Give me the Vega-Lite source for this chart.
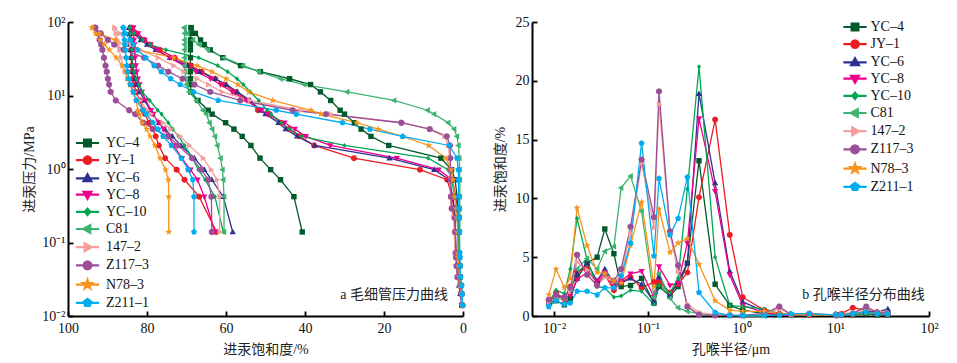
{
"$schema":"https://vega.github.io/schema/vega-lite/v6.json",
"padding":{"left":22,"top":15,"right":5,"bottom":5},
"config":{"view":{"stroke":null},"font":"Liberation Serif",
"axis":{"domainColor":"#000","domainWidth":2,"tickColor":"#000","tickWidth":1.8,"tickSize":-5,"labelFont":"Liberation Serif","labelFontSize":14,"labelColor":"#111","titleFont":"Liberation Serif, Noto Sans CJK SC","titleFontSize":14,"titleFontWeight":"normal","titleColor":"#222","grid":false,"labelFlush":false},
"legend":{"title":null,"padding":0,"labelFont":"Liberation Serif","labelFontSize":14,"labelColor":"#111","symbolSize":56,"rowPadding":0.2,"symbolStrokeWidth":2.2,"symbolOpacity":1}},
"datasets":{
"cap":[
{"id":"YC–4","c":"in","P":83.8,"S":68.85},{"id":"YC–4","c":"in","P":70,"S":67.75},{"id":"YC–4","c":"in","P":57,"S":66.45},{"id":"YC–4","c":"in","P":49.3,"S":65.5},{"id":"YC–4","c":"in","P":41.8,"S":64.0},{"id":"YC–4","c":"in","P":32.7,"S":60.8},{"id":"YC–4","c":"in","P":25.5,"S":56.3},{"id":"YC–4","c":"in","P":21.1,"S":51.3},{"id":"YC–4","c":"in","P":16.9,"S":43.9},{"id":"YC–4","c":"in","P":14.1,"S":38.6},{"id":"YC–4","c":"in","P":11.2,"S":36.1},{"id":"YC–4","c":"in","P":8.56,"S":33.5},{"id":"YC–4","c":"in","P":6.3,"S":31.1},{"id":"YC–4","c":"in","P":5.58,"S":30.0},{"id":"YC–4","c":"in","P":4.26,"S":27.5},{"id":"YC–4","c":"in","P":3.49,"S":25.8},{"id":"YC–4","c":"in","P":2.78,"S":23.3},{"id":"YC–4","c":"in","P":2.09,"S":18.8},{"id":"YC–4","c":"in","P":1.405,"S":5.6},{"id":"YC–4","c":"in","P":0.98,"S":2.9},{"id":"YC–4","c":"in","P":0.714,"S":2.0},{"id":"YC–4","c":"in","P":0.42,"S":1.5},{"id":"YC–4","c":"in","P":0.29,"S":1.3},{"id":"YC–4","c":"in","P":0.218,"S":1.2},{"id":"YC–4","c":"in","P":0.139,"S":1.1},{"id":"YC–4","c":"in","P":0.072,"S":1.0},{"id":"YC–4","c":"in","P":0.063,"S":0.9},{"id":"YC–4","c":"in","P":0.048,"S":0.8},{"id":"YC–4","c":"in","P":0.034,"S":0.7},{"id":"YC–4","c":"in","P":0.026,"S":0.5},{"id":"YC–4","c":"in","P":0.02,"S":0.4},{"id":"YC–4","c":"in","P":0.014,"S":0.3},
{"id":"JY–1","c":"in","P":83.8,"S":84.0},{"id":"JY–1","c":"in","P":70,"S":82.7},{"id":"JY–1","c":"in","P":57,"S":80.7},{"id":"JY–1","c":"in","P":49.3,"S":79.3},{"id":"JY–1","c":"in","P":41.8,"S":76.8},{"id":"JY–1","c":"in","P":32.7,"S":73.0},{"id":"JY–1","c":"in","P":25.5,"S":69.0},{"id":"JY–1","c":"in","P":21.1,"S":66.2},{"id":"JY–1","c":"in","P":16.9,"S":62.7},{"id":"JY–1","c":"in","P":14.1,"S":60.5},{"id":"JY–1","c":"in","P":11.2,"S":57.6},{"id":"JY–1","c":"in","P":8.56,"S":54.3},{"id":"JY–1","c":"in","P":6.3,"S":51.9},{"id":"JY–1","c":"in","P":5.58,"S":49.0},{"id":"JY–1","c":"in","P":4.26,"S":46.1},{"id":"JY–1","c":"in","P":3.49,"S":44.1},{"id":"JY–1","c":"in","P":2.78,"S":41.4},{"id":"JY–1","c":"in","P":2.09,"S":37.7},{"id":"JY–1","c":"in","P":1.405,"S":27.6},{"id":"JY–1","c":"in","P":0.98,"S":10.9},{"id":"JY–1","c":"in","P":0.714,"S":4.0},{"id":"JY–1","c":"in","P":0.42,"S":2.8},{"id":"JY–1","c":"in","P":0.29,"S":2.3},{"id":"JY–1","c":"in","P":0.218,"S":2.1},{"id":"JY–1","c":"in","P":0.139,"S":2.0},{"id":"JY–1","c":"in","P":0.072,"S":1.9},{"id":"JY–1","c":"in","P":0.063,"S":1.8},{"id":"JY–1","c":"in","P":0.048,"S":1.6},{"id":"JY–1","c":"in","P":0.034,"S":1.1},{"id":"JY–1","c":"in","P":0.026,"S":0.8},{"id":"JY–1","c":"in","P":0.02,"S":0.5},{"id":"JY–1","c":"in","P":0.014,"S":0.2},
{"id":"YC–6","c":"in","P":83.8,"S":84.5},{"id":"YC–6","c":"in","P":70,"S":83.3},{"id":"YC–6","c":"in","P":57,"S":81.6},{"id":"YC–6","c":"in","P":49.3,"S":80.0},{"id":"YC–6","c":"in","P":41.8,"S":77.8},{"id":"YC–6","c":"in","P":32.7,"S":74.2},{"id":"YC–6","c":"in","P":25.5,"S":69.7},{"id":"YC–6","c":"in","P":21.1,"S":66.7},{"id":"YC–6","c":"in","P":16.9,"S":62.7},{"id":"YC–6","c":"in","P":14.1,"S":59.9},{"id":"YC–6","c":"in","P":11.2,"S":57.1},{"id":"YC–6","c":"in","P":8.56,"S":53.9},{"id":"YC–6","c":"in","P":6.3,"S":51.2},{"id":"YC–6","c":"in","P":5.58,"S":50.0},{"id":"YC–6","c":"in","P":4.26,"S":46.7},{"id":"YC–6","c":"in","P":3.49,"S":44.9},{"id":"YC–6","c":"in","P":2.78,"S":42.0},{"id":"YC–6","c":"in","P":2.09,"S":37.5},{"id":"YC–6","c":"in","P":1.405,"S":18.6},{"id":"YC–6","c":"in","P":0.98,"S":7.3},{"id":"YC–6","c":"in","P":0.714,"S":3.5},{"id":"YC–6","c":"in","P":0.42,"S":2.6},{"id":"YC–6","c":"in","P":0.29,"S":2.2},{"id":"YC–6","c":"in","P":0.218,"S":2.0},{"id":"YC–6","c":"in","P":0.139,"S":1.9},{"id":"YC–6","c":"in","P":0.072,"S":1.8},{"id":"YC–6","c":"in","P":0.063,"S":1.7},{"id":"YC–6","c":"in","P":0.048,"S":1.6},{"id":"YC–6","c":"in","P":0.034,"S":1.4},{"id":"YC–6","c":"in","P":0.026,"S":1.0},{"id":"YC–6","c":"in","P":0.02,"S":0.7},{"id":"YC–6","c":"in","P":0.014,"S":0.3},
{"id":"YC–8","c":"in","P":83.8,"S":83.5},{"id":"YC–8","c":"in","P":70,"S":82.2},{"id":"YC–8","c":"in","P":57,"S":80.6},{"id":"YC–8","c":"in","P":49.3,"S":79.1},{"id":"YC–8","c":"in","P":41.8,"S":77.4},{"id":"YC–8","c":"in","P":32.7,"S":74.3},{"id":"YC–8","c":"in","P":25.5,"S":70.6},{"id":"YC–8","c":"in","P":21.1,"S":67.6},{"id":"YC–8","c":"in","P":16.9,"S":63.9},{"id":"YC–8","c":"in","P":14.1,"S":61.4},{"id":"YC–8","c":"in","P":11.2,"S":58.4},{"id":"YC–8","c":"in","P":8.56,"S":54.8},{"id":"YC–8","c":"in","P":6.3,"S":51.0},{"id":"YC–8","c":"in","P":5.58,"S":49.4},{"id":"YC–8","c":"in","P":4.26,"S":45.2},{"id":"YC–8","c":"in","P":3.49,"S":42.6},{"id":"YC–8","c":"in","P":2.78,"S":39.8},{"id":"YC–8","c":"in","P":2.09,"S":33.6},{"id":"YC–8","c":"in","P":1.405,"S":16.8},{"id":"YC–8","c":"in","P":0.98,"S":6.2},{"id":"YC–8","c":"in","P":0.714,"S":2.7},{"id":"YC–8","c":"in","P":0.42,"S":1.8},{"id":"YC–8","c":"in","P":0.29,"S":1.5},{"id":"YC–8","c":"in","P":0.218,"S":1.4},{"id":"YC–8","c":"in","P":0.139,"S":1.3},{"id":"YC–8","c":"in","P":0.072,"S":1.2},{"id":"YC–8","c":"in","P":0.063,"S":1.15},{"id":"YC–8","c":"in","P":0.048,"S":1.1},{"id":"YC–8","c":"in","P":0.034,"S":1.0},{"id":"YC–8","c":"in","P":0.026,"S":0.7},{"id":"YC–8","c":"in","P":0.02,"S":0.5},{"id":"YC–8","c":"in","P":0.014,"S":0.3},
{"id":"YC–10","c":"in","P":83.8,"S":84.3},{"id":"YC–10","c":"in","P":70,"S":83.3},{"id":"YC–10","c":"in","P":57,"S":81.1},{"id":"YC–10","c":"in","P":49.3,"S":79.2},{"id":"YC–10","c":"in","P":41.8,"S":75.2},{"id":"YC–10","c":"in","P":32.7,"S":66.9},{"id":"YC–10","c":"in","P":25.5,"S":62.1},{"id":"YC–10","c":"in","P":21.1,"S":59.6},{"id":"YC–10","c":"in","P":16.9,"S":57.2},{"id":"YC–10","c":"in","P":14.1,"S":55.6},{"id":"YC–10","c":"in","P":11.2,"S":53.9},{"id":"YC–10","c":"in","P":8.56,"S":51.7},{"id":"YC–10","c":"in","P":6.3,"S":49.6},{"id":"YC–10","c":"in","P":5.58,"S":48.6},{"id":"YC–10","c":"in","P":4.26,"S":46.0},{"id":"YC–10","c":"in","P":3.49,"S":44.0},{"id":"YC–10","c":"in","P":2.78,"S":40.8},{"id":"YC–10","c":"in","P":2.09,"S":30.0},{"id":"YC–10","c":"in","P":1.405,"S":8.8},{"id":"YC–10","c":"in","P":0.98,"S":3.8},{"id":"YC–10","c":"in","P":0.714,"S":2.9},{"id":"YC–10","c":"in","P":0.42,"S":2.1},{"id":"YC–10","c":"in","P":0.29,"S":1.5},{"id":"YC–10","c":"in","P":0.218,"S":1.3},{"id":"YC–10","c":"in","P":0.139,"S":1.2},{"id":"YC–10","c":"in","P":0.072,"S":1.1},{"id":"YC–10","c":"in","P":0.063,"S":1.05},{"id":"YC–10","c":"in","P":0.048,"S":1.0},{"id":"YC–10","c":"in","P":0.034,"S":0.9},{"id":"YC–10","c":"in","P":0.026,"S":0.7},{"id":"YC–10","c":"in","P":0.02,"S":0.5},{"id":"YC–10","c":"in","P":0.014,"S":0.3},
{"id":"C81","c":"in","P":83.8,"S":70.55},{"id":"C81","c":"in","P":70,"S":69.75},{"id":"C81","c":"in","P":57,"S":68.35},{"id":"C81","c":"in","P":49.3,"S":66.85},{"id":"C81","c":"in","P":41.8,"S":64.55},{"id":"C81","c":"in","P":32.7,"S":60.55},{"id":"C81","c":"in","P":25.5,"S":55.65},{"id":"C81","c":"in","P":21.1,"S":51.65},{"id":"C81","c":"in","P":16.9,"S":46.15},{"id":"C81","c":"in","P":14.1,"S":40.25},{"id":"C81","c":"in","P":11.2,"S":29.35},{"id":"C81","c":"in","P":8.56,"S":17.45},{"id":"C81","c":"in","P":6.3,"S":8.95},{"id":"C81","c":"in","P":5.58,"S":7.35},{"id":"C81","c":"in","P":4.26,"S":3.75},{"id":"C81","c":"in","P":3.49,"S":2.25},{"id":"C81","c":"in","P":2.78,"S":1.55},{"id":"C81","c":"in","P":2.09,"S":1.15},{"id":"C81","c":"in","P":1.405,"S":0.95},{"id":"C81","c":"in","P":0.98,"S":0.85},{"id":"C81","c":"in","P":0.714,"S":0.8},{"id":"C81","c":"in","P":0.42,"S":0.8},{"id":"C81","c":"in","P":0.29,"S":0.8},{"id":"C81","c":"in","P":0.218,"S":0.8},{"id":"C81","c":"in","P":0.139,"S":0.8},
{"id":"147–2","c":"in","P":83.8,"S":88.2},{"id":"147–2","c":"in","P":70,"S":87.0},{"id":"147–2","c":"in","P":57,"S":85.5},{"id":"147–2","c":"in","P":49.3,"S":84.0},{"id":"147–2","c":"in","P":41.8,"S":81.8},{"id":"147–2","c":"in","P":32.7,"S":77.2},{"id":"147–2","c":"in","P":25.5,"S":73.3},{"id":"147–2","c":"in","P":21.1,"S":70.7},{"id":"147–2","c":"in","P":16.9,"S":67.4},{"id":"147–2","c":"in","P":14.1,"S":64.5},{"id":"147–2","c":"in","P":11.2,"S":61.0},{"id":"147–2","c":"in","P":8.56,"S":54.0},{"id":"147–2","c":"in","P":6.3,"S":41.0},{"id":"147–2","c":"in","P":5.58,"S":33.5},{"id":"147–2","c":"in","P":4.26,"S":15.5},{"id":"147–2","c":"in","P":3.49,"S":8.5},{"id":"147–2","c":"in","P":2.78,"S":4.7},{"id":"147–2","c":"in","P":2.09,"S":3.7},{"id":"147–2","c":"in","P":1.405,"S":3.4},{"id":"147–2","c":"in","P":0.98,"S":3.3},{"id":"147–2","c":"in","P":0.714,"S":3.25},{"id":"147–2","c":"in","P":0.42,"S":3.2},{"id":"147–2","c":"in","P":0.29,"S":3.0},{"id":"147–2","c":"in","P":0.218,"S":2.4},{"id":"147–2","c":"in","P":0.139,"S":2.2},{"id":"147–2","c":"in","P":0.072,"S":2.0},{"id":"147–2","c":"in","P":0.063,"S":1.9},{"id":"147–2","c":"in","P":0.048,"S":1.7},{"id":"147–2","c":"in","P":0.034,"S":1.4},{"id":"147–2","c":"in","P":0.026,"S":0.8},{"id":"147–2","c":"in","P":0.02,"S":0.4},{"id":"147–2","c":"in","P":0.014,"S":0.1},
{"id":"Z117–3","c":"in","P":83.8,"S":93.1},{"id":"Z117–3","c":"in","P":70,"S":91.7},{"id":"Z117–3","c":"in","P":57,"S":89.9},{"id":"Z117–3","c":"in","P":49.3,"S":88.3},{"id":"Z117–3","c":"in","P":41.8,"S":85.9},{"id":"Z117–3","c":"in","P":32.7,"S":80.7},{"id":"Z117–3","c":"in","P":25.5,"S":77.2},{"id":"Z117–3","c":"in","P":21.1,"S":74.6},{"id":"Z117–3","c":"in","P":16.9,"S":71.0},{"id":"Z117–3","c":"in","P":14.1,"S":68.0},{"id":"Z117–3","c":"in","P":11.2,"S":64.0},{"id":"Z117–3","c":"in","P":8.56,"S":56.4},{"id":"Z117–3","c":"in","P":6.3,"S":43.1},{"id":"Z117–3","c":"in","P":5.58,"S":34.7},{"id":"Z117–3","c":"in","P":4.26,"S":15.6},{"id":"Z117–3","c":"in","P":3.49,"S":8.4},{"id":"Z117–3","c":"in","P":2.78,"S":4.1},{"id":"Z117–3","c":"in","P":2.09,"S":3.3},{"id":"Z117–3","c":"in","P":1.405,"S":3.2},{"id":"Z117–3","c":"in","P":0.98,"S":3.15},{"id":"Z117–3","c":"in","P":0.714,"S":3.1},{"id":"Z117–3","c":"in","P":0.42,"S":3.05},{"id":"Z117–3","c":"in","P":0.29,"S":2.85},{"id":"Z117–3","c":"in","P":0.218,"S":2.05},{"id":"Z117–3","c":"in","P":0.139,"S":1.95},{"id":"Z117–3","c":"in","P":0.072,"S":1.75},{"id":"Z117–3","c":"in","P":0.063,"S":1.7},{"id":"Z117–3","c":"in","P":0.048,"S":1.6},{"id":"Z117–3","c":"in","P":0.034,"S":1.4},{"id":"Z117–3","c":"in","P":0.026,"S":0.6},{"id":"Z117–3","c":"in","P":0.02,"S":0.3},{"id":"Z117–3","c":"in","P":0.014,"S":0.1},
{"id":"N78–3","c":"in","P":83.8,"S":93.9},{"id":"N78–3","c":"in","P":70,"S":92.1},{"id":"N78–3","c":"in","P":57,"S":88.1},{"id":"N78–3","c":"in","P":49.3,"S":85.7},{"id":"N78–3","c":"in","P":41.8,"S":82.5},{"id":"N78–3","c":"in","P":32.7,"S":73.3},{"id":"N78–3","c":"in","P":25.5,"S":67.3},{"id":"N78–3","c":"in","P":21.1,"S":63.6},{"id":"N78–3","c":"in","P":16.9,"S":60.0},{"id":"N78–3","c":"in","P":14.1,"S":57.0},{"id":"N78–3","c":"in","P":11.2,"S":54.2},{"id":"N78–3","c":"in","P":8.56,"S":48.2},{"id":"N78–3","c":"in","P":6.3,"S":38.5},{"id":"N78–3","c":"in","P":5.58,"S":36.0},{"id":"N78–3","c":"in","P":4.26,"S":26.9},{"id":"N78–3","c":"in","P":3.49,"S":21.5},{"id":"N78–3","c":"in","P":2.78,"S":15.3},{"id":"N78–3","c":"in","P":2.09,"S":8.7},{"id":"N78–3","c":"in","P":1.405,"S":4.3},{"id":"N78–3","c":"in","P":0.98,"S":3.0},{"id":"N78–3","c":"in","P":0.714,"S":2.5},{"id":"N78–3","c":"in","P":0.42,"S":2.1},{"id":"N78–3","c":"in","P":0.29,"S":1.7},{"id":"N78–3","c":"in","P":0.218,"S":1.5},{"id":"N78–3","c":"in","P":0.139,"S":1.4},{"id":"N78–3","c":"in","P":0.072,"S":1.3},{"id":"N78–3","c":"in","P":0.063,"S":1.2},{"id":"N78–3","c":"in","P":0.048,"S":1.1},{"id":"N78–3","c":"in","P":0.034,"S":0.9},{"id":"N78–3","c":"in","P":0.026,"S":0.6},{"id":"N78–3","c":"in","P":0.02,"S":0.4},{"id":"N78–3","c":"in","P":0.014,"S":0.2},
{"id":"Z211–1","c":"in","P":83.8,"S":86.0},{"id":"Z211–1","c":"in","P":70,"S":85.5},{"id":"Z211–1","c":"in","P":57,"S":84.2},{"id":"Z211–1","c":"in","P":49.3,"S":83.5},{"id":"Z211–1","c":"in","P":41.8,"S":82.4},{"id":"Z211–1","c":"in","P":32.7,"S":80.3},{"id":"Z211–1","c":"in","P":25.5,"S":78.2},{"id":"Z211–1","c":"in","P":21.1,"S":76.4},{"id":"Z211–1","c":"in","P":16.9,"S":74.0},{"id":"Z211–1","c":"in","P":14.1,"S":71.6},{"id":"Z211–1","c":"in","P":11.2,"S":68.2},{"id":"Z211–1","c":"in","P":8.56,"S":62.0},{"id":"Z211–1","c":"in","P":6.3,"S":47.3},{"id":"Z211–1","c":"in","P":5.58,"S":42.2},{"id":"Z211–1","c":"in","P":4.26,"S":30.5},{"id":"Z211–1","c":"in","P":3.49,"S":23.6},{"id":"Z211–1","c":"in","P":2.78,"S":15.3},{"id":"Z211–1","c":"in","P":2.09,"S":3.5},{"id":"Z211–1","c":"in","P":1.405,"S":1.5},{"id":"Z211–1","c":"in","P":0.98,"S":1.2},{"id":"Z211–1","c":"in","P":0.714,"S":1.15},{"id":"Z211–1","c":"in","P":0.42,"S":1.1},{"id":"Z211–1","c":"in","P":0.29,"S":1.05},{"id":"Z211–1","c":"in","P":0.218,"S":1.0},{"id":"Z211–1","c":"in","P":0.139,"S":0.9},{"id":"Z211–1","c":"in","P":0.072,"S":0.8},{"id":"Z211–1","c":"in","P":0.063,"S":0.75},{"id":"Z211–1","c":"in","P":0.048,"S":0.7},{"id":"Z211–1","c":"in","P":0.034,"S":0.6},{"id":"Z211–1","c":"in","P":0.026,"S":0.3},{"id":"Z211–1","c":"in","P":0.02,"S":0.2},{"id":"Z211–1","c":"in","P":0.014,"S":0.1},
{"id":"YC–4","c":"out","P":83.8,"S":68.85},{"id":"YC–4","c":"out","P":70,"S":68.9},{"id":"YC–4","c":"out","P":57,"S":69.0},{"id":"YC–4","c":"out","P":49.3,"S":69.0},{"id":"YC–4","c":"out","P":41.8,"S":69.0},{"id":"YC–4","c":"out","P":32.7,"S":69.0},{"id":"YC–4","c":"out","P":25.5,"S":69.0},{"id":"YC–4","c":"out","P":21.1,"S":69.0},{"id":"YC–4","c":"out","P":16.9,"S":69.0},{"id":"YC–4","c":"out","P":14.1,"S":69.0},{"id":"YC–4","c":"out","P":11.2,"S":68.9},{"id":"YC–4","c":"out","P":8.56,"S":67.1},{"id":"YC–4","c":"out","P":6.3,"S":64.5},{"id":"YC–4","c":"out","P":5.58,"S":63.5},{"id":"YC–4","c":"out","P":4.26,"S":60.1},{"id":"YC–4","c":"out","P":3.49,"S":58.0},{"id":"YC–4","c":"out","P":2.78,"S":55.9},{"id":"YC–4","c":"out","P":2.09,"S":53.7},{"id":"YC–4","c":"out","P":1.405,"S":51.4},{"id":"YC–4","c":"out","P":0.98,"S":48.7},{"id":"YC–4","c":"out","P":0.714,"S":46.2},{"id":"YC–4","c":"out","P":0.42,"S":42.8},{"id":"YC–4","c":"out","P":0.139,"S":40.7},
{"id":"JY–1","c":"out","P":83.8,"S":84.0},{"id":"JY–1","c":"out","P":70,"S":84.0},{"id":"JY–1","c":"out","P":57,"S":84.0},{"id":"JY–1","c":"out","P":49.3,"S":84.0},{"id":"JY–1","c":"out","P":41.8,"S":84.0},{"id":"JY–1","c":"out","P":32.7,"S":83.9},{"id":"JY–1","c":"out","P":25.5,"S":83.9},{"id":"JY–1","c":"out","P":21.1,"S":83.8},{"id":"JY–1","c":"out","P":16.9,"S":83.6},{"id":"JY–1","c":"out","P":14.1,"S":83.3},{"id":"JY–1","c":"out","P":11.2,"S":82.8},{"id":"JY–1","c":"out","P":8.56,"S":81.8},{"id":"JY–1","c":"out","P":6.3,"S":81.0},{"id":"JY–1","c":"out","P":5.58,"S":80.5},{"id":"JY–1","c":"out","P":4.26,"S":79.5},{"id":"JY–1","c":"out","P":3.49,"S":78.6},{"id":"JY–1","c":"out","P":2.78,"S":77.8},{"id":"JY–1","c":"out","P":2.09,"S":77.0},{"id":"JY–1","c":"out","P":1.405,"S":75.4},{"id":"JY–1","c":"out","P":0.98,"S":72.5},{"id":"JY–1","c":"out","P":0.714,"S":70.5},{"id":"JY–1","c":"out","P":0.42,"S":66.8},{"id":"JY–1","c":"out","P":0.139,"S":62.4},
{"id":"YC–6","c":"out","P":83.8,"S":84.5},{"id":"YC–6","c":"out","P":70,"S":84.4},{"id":"YC–6","c":"out","P":57,"S":84.3},{"id":"YC–6","c":"out","P":49.3,"S":84.2},{"id":"YC–6","c":"out","P":41.8,"S":84.1},{"id":"YC–6","c":"out","P":32.7,"S":84.0},{"id":"YC–6","c":"out","P":25.5,"S":83.8},{"id":"YC–6","c":"out","P":21.1,"S":83.5},{"id":"YC–6","c":"out","P":16.9,"S":83.1},{"id":"YC–6","c":"out","P":14.1,"S":82.6},{"id":"YC–6","c":"out","P":11.2,"S":81.8},{"id":"YC–6","c":"out","P":8.56,"S":80.6},{"id":"YC–6","c":"out","P":6.3,"S":79.2},{"id":"YC–6","c":"out","P":5.58,"S":78.6},{"id":"YC–6","c":"out","P":4.26,"S":77.0},{"id":"YC–6","c":"out","P":3.49,"S":75.5},{"id":"YC–6","c":"out","P":2.78,"S":73.6},{"id":"YC–6","c":"out","P":2.09,"S":71.4},{"id":"YC–6","c":"out","P":1.405,"S":68.0},{"id":"YC–6","c":"out","P":0.98,"S":65.5},{"id":"YC–6","c":"out","P":0.714,"S":63.6},{"id":"YC–6","c":"out","P":0.42,"S":60.7},{"id":"YC–6","c":"out","P":0.139,"S":58.3},
{"id":"YC–8","c":"out","P":83.8,"S":83.5},{"id":"YC–8","c":"out","P":70,"S":83.4},{"id":"YC–8","c":"out","P":57,"S":83.3},{"id":"YC–8","c":"out","P":49.3,"S":83.2},{"id":"YC–8","c":"out","P":41.8,"S":83.1},{"id":"YC–8","c":"out","P":32.7,"S":83.0},{"id":"YC–8","c":"out","P":25.5,"S":82.8},{"id":"YC–8","c":"out","P":21.1,"S":82.6},{"id":"YC–8","c":"out","P":16.9,"S":82.3},{"id":"YC–8","c":"out","P":14.1,"S":81.9},{"id":"YC–8","c":"out","P":11.2,"S":81.3},{"id":"YC–8","c":"out","P":8.56,"S":80.3},{"id":"YC–8","c":"out","P":6.3,"S":79.0},{"id":"YC–8","c":"out","P":5.58,"S":78.4},{"id":"YC–8","c":"out","P":4.26,"S":77.0},{"id":"YC–8","c":"out","P":3.49,"S":75.8},{"id":"YC–8","c":"out","P":2.78,"S":74.5},{"id":"YC–8","c":"out","P":2.09,"S":73.2},{"id":"YC–8","c":"out","P":1.405,"S":71.2},{"id":"YC–8","c":"out","P":0.98,"S":69.0},{"id":"YC–8","c":"out","P":0.714,"S":67.2},{"id":"YC–8","c":"out","P":0.42,"S":65.5},{"id":"YC–8","c":"out","P":0.139,"S":62.8},
{"id":"YC–10","c":"out","P":83.8,"S":84.3},{"id":"YC–10","c":"out","P":70,"S":84.2},{"id":"YC–10","c":"out","P":57,"S":84.1},{"id":"YC–10","c":"out","P":49.3,"S":84.0},{"id":"YC–10","c":"out","P":41.8,"S":83.9},{"id":"YC–10","c":"out","P":32.7,"S":83.8},{"id":"YC–10","c":"out","P":25.5,"S":83.6},{"id":"YC–10","c":"out","P":21.1,"S":83.3},{"id":"YC–10","c":"out","P":16.9,"S":82.7},{"id":"YC–10","c":"out","P":14.1,"S":82.0},{"id":"YC–10","c":"out","P":11.2,"S":81.2},{"id":"YC–10","c":"out","P":8.56,"S":79.3},{"id":"YC–10","c":"out","P":6.3,"S":77.3},{"id":"YC–10","c":"out","P":5.58,"S":76.3},{"id":"YC–10","c":"out","P":4.26,"S":74.6},{"id":"YC–10","c":"out","P":3.49,"S":73.5},{"id":"YC–10","c":"out","P":2.78,"S":72.0},{"id":"YC–10","c":"out","P":2.09,"S":70.5},{"id":"YC–10","c":"out","P":1.405,"S":68.5},{"id":"YC–10","c":"out","P":0.98,"S":67.0},{"id":"YC–10","c":"out","P":0.714,"S":65.3},{"id":"YC–10","c":"out","P":0.42,"S":62.8},{"id":"YC–10","c":"out","P":0.139,"S":60.7},
{"id":"C81","c":"out","P":83.8,"S":70.55},{"id":"C81","c":"out","P":70,"S":70.5},{"id":"C81","c":"out","P":57,"S":70.5},{"id":"C81","c":"out","P":49.3,"S":70.5},{"id":"C81","c":"out","P":41.8,"S":70.5},{"id":"C81","c":"out","P":32.7,"S":70.5},{"id":"C81","c":"out","P":25.5,"S":70.5},{"id":"C81","c":"out","P":21.1,"S":70.4},{"id":"C81","c":"out","P":16.9,"S":70.3},{"id":"C81","c":"out","P":14.1,"S":70.0},{"id":"C81","c":"out","P":11.2,"S":69.3},{"id":"C81","c":"out","P":8.56,"S":67.5},{"id":"C81","c":"out","P":6.3,"S":65.8},{"id":"C81","c":"out","P":5.58,"S":65.0},{"id":"C81","c":"out","P":4.26,"S":64.2},{"id":"C81","c":"out","P":3.49,"S":63.5},{"id":"C81","c":"out","P":2.78,"S":62.8},{"id":"C81","c":"out","P":2.09,"S":62.2},{"id":"C81","c":"out","P":1.405,"S":61.4},{"id":"C81","c":"out","P":0.98,"S":60.9},{"id":"C81","c":"out","P":0.714,"S":60.7},{"id":"C81","c":"out","P":0.42,"S":60.5},{"id":"C81","c":"out","P":0.139,"S":60.5},
{"id":"147–2","c":"out","P":83.8,"S":88.2},{"id":"147–2","c":"out","P":70,"S":87.9},{"id":"147–2","c":"out","P":57,"S":87.6},{"id":"147–2","c":"out","P":49.3,"S":87.3},{"id":"147–2","c":"out","P":41.8,"S":87.0},{"id":"147–2","c":"out","P":32.7,"S":86.6},{"id":"147–2","c":"out","P":25.5,"S":86.1},{"id":"147–2","c":"out","P":21.1,"S":85.6},{"id":"147–2","c":"out","P":16.9,"S":85.0},{"id":"147–2","c":"out","P":14.1,"S":84.2},{"id":"147–2","c":"out","P":11.2,"S":83.2},{"id":"147–2","c":"out","P":8.56,"S":81.8},{"id":"147–2","c":"out","P":6.3,"S":80.0},{"id":"147–2","c":"out","P":5.58,"S":79.0},{"id":"147–2","c":"out","P":4.26,"S":76.0},{"id":"147–2","c":"out","P":3.49,"S":74.0},{"id":"147–2","c":"out","P":2.78,"S":71.6},{"id":"147–2","c":"out","P":2.09,"S":69.3},{"id":"147–2","c":"out","P":1.405,"S":65.8},{"id":"147–2","c":"out","P":0.98,"S":63.8},{"id":"147–2","c":"out","P":0.714,"S":62.3},{"id":"147–2","c":"out","P":0.42,"S":61.6},{"id":"147–2","c":"out","P":0.139,"S":61.6},
{"id":"Z117–3","c":"out","P":83.8,"S":93.1},{"id":"Z117–3","c":"out","P":70,"S":92.5},{"id":"Z117–3","c":"out","P":57,"S":92.0},{"id":"Z117–3","c":"out","P":49.3,"S":91.6},{"id":"Z117–3","c":"out","P":41.8,"S":91.3},{"id":"Z117–3","c":"out","P":32.7,"S":90.9},{"id":"Z117–3","c":"out","P":25.5,"S":90.5},{"id":"Z117–3","c":"out","P":21.1,"S":90.2},{"id":"Z117–3","c":"out","P":16.9,"S":89.9},{"id":"Z117–3","c":"out","P":14.1,"S":89.6},{"id":"Z117–3","c":"out","P":11.2,"S":89.2},{"id":"Z117–3","c":"out","P":8.56,"S":87.9},{"id":"Z117–3","c":"out","P":6.3,"S":84.5},{"id":"Z117–3","c":"out","P":5.58,"S":83.0},{"id":"Z117–3","c":"out","P":4.26,"S":80.9},{"id":"Z117–3","c":"out","P":3.49,"S":78.4},{"id":"Z117–3","c":"out","P":2.78,"S":74.6},{"id":"Z117–3","c":"out","P":2.09,"S":72.1},{"id":"Z117–3","c":"out","P":1.405,"S":68.6},{"id":"Z117–3","c":"out","P":0.98,"S":66.3},{"id":"Z117–3","c":"out","P":0.714,"S":64.5},{"id":"Z117–3","c":"out","P":0.42,"S":63.7},{"id":"Z117–3","c":"out","P":0.139,"S":63.6},
{"id":"N78–3","c":"out","P":83.8,"S":93.9},{"id":"N78–3","c":"out","P":70,"S":93.0},{"id":"N78–3","c":"out","P":57,"S":91.8},{"id":"N78–3","c":"out","P":49.3,"S":90.8},{"id":"N78–3","c":"out","P":41.8,"S":89.5},{"id":"N78–3","c":"out","P":32.7,"S":87.8},{"id":"N78–3","c":"out","P":25.5,"S":86.3},{"id":"N78–3","c":"out","P":21.1,"S":85.5},{"id":"N78–3","c":"out","P":16.9,"S":84.8},{"id":"N78–3","c":"out","P":14.1,"S":84.3},{"id":"N78–3","c":"out","P":11.2,"S":83.6},{"id":"N78–3","c":"out","P":8.56,"S":82.8},{"id":"N78–3","c":"out","P":6.3,"S":82.3},{"id":"N78–3","c":"out","P":5.58,"S":81.9},{"id":"N78–3","c":"out","P":4.26,"S":81.2},{"id":"N78–3","c":"out","P":3.49,"S":80.1},{"id":"N78–3","c":"out","P":2.78,"S":79.2},{"id":"N78–3","c":"out","P":2.09,"S":78.0},{"id":"N78–3","c":"out","P":1.405,"S":76.7},{"id":"N78–3","c":"out","P":0.98,"S":75.3},{"id":"N78–3","c":"out","P":0.714,"S":74.6},{"id":"N78–3","c":"out","P":0.42,"S":74.5},{"id":"N78–3","c":"out","P":0.139,"S":74.5},
{"id":"Z211–1","c":"out","P":83.8,"S":86.0},{"id":"Z211–1","c":"out","P":70,"S":85.8},{"id":"Z211–1","c":"out","P":57,"S":85.7},{"id":"Z211–1","c":"out","P":49.3,"S":85.6},{"id":"Z211–1","c":"out","P":41.8,"S":85.5},{"id":"Z211–1","c":"out","P":32.7,"S":85.3},{"id":"Z211–1","c":"out","P":25.5,"S":85.1},{"id":"Z211–1","c":"out","P":21.1,"S":84.9},{"id":"Z211–1","c":"out","P":16.9,"S":84.6},{"id":"Z211–1","c":"out","P":14.1,"S":84.2},{"id":"Z211–1","c":"out","P":11.2,"S":83.5},{"id":"Z211–1","c":"out","P":8.56,"S":82.7},{"id":"Z211–1","c":"out","P":6.3,"S":81.0},{"id":"Z211–1","c":"out","P":5.58,"S":80.2},{"id":"Z211–1","c":"out","P":4.26,"S":78.5},{"id":"Z211–1","c":"out","P":3.49,"S":77.2},{"id":"Z211–1","c":"out","P":2.78,"S":75.9},{"id":"Z211–1","c":"out","P":2.09,"S":73.8},{"id":"Z211–1","c":"out","P":1.405,"S":71.3},{"id":"Z211–1","c":"out","P":0.98,"S":69.6},{"id":"Z211–1","c":"out","P":0.714,"S":68.4},{"id":"Z211–1","c":"out","P":0.42,"S":68.1},{"id":"Z211–1","c":"out","P":0.139,"S":68.1}
],
"pore":[
{"id":"YC–4","r":0.0088,"v":1.1},{"id":"YC–4","r":0.0105,"v":1.3},{"id":"YC–4","r":0.0129,"v":0.95},{"id":"YC–4","r":0.0149,"v":1.5},{"id":"YC–4","r":0.0176,"v":3.2},{"id":"YC–4","r":0.0225,"v":4.5},{"id":"YC–4","r":0.0288,"v":5.0},{"id":"YC–4","r":0.0348,"v":7.4},{"id":"YC–4","r":0.0435,"v":5.3},{"id":"YC–4","r":0.052,"v":2.5},{"id":"YC–4","r":0.0655,"v":2.6},{"id":"YC–4","r":0.0859,"v":3.2},{"id":"YC–4","r":0.1165,"v":1.1},{"id":"YC–4","r":0.1318,"v":2.5},{"id":"YC–4","r":0.1727,"v":1.7},{"id":"YC–4","r":0.2104,"v":2.5},{"id":"YC–4","r":0.2645,"v":4.5},{"id":"YC–4","r":0.352,"v":13.2},{"id":"YC–4","r":0.523,"v":2.7},{"id":"YC–4","r":0.75,"v":0.9},{"id":"YC–4","r":1.03,"v":0.5},{"id":"YC–4","r":1.75,"v":0.2},{"id":"YC–4","r":2.53,"v":0.1},{"id":"YC–4","r":3.37,"v":0.1},{"id":"YC–4","r":5.3,"v":0.1},{"id":"YC–4","r":10.2,"v":0.1},{"id":"YC–4","r":11.6,"v":0.1},{"id":"YC–4","r":15.4,"v":0.1},{"id":"YC–4","r":21.4,"v":0.2},{"id":"YC–4","r":28,"v":0.1},{"id":"YC–4","r":36.4,"v":0.1},
{"id":"JY–1","r":0.0088,"v":1.3},{"id":"JY–1","r":0.0105,"v":2.0},{"id":"JY–1","r":0.0129,"v":1.4},{"id":"JY–1","r":0.0149,"v":2.5},{"id":"JY–1","r":0.0176,"v":3.8},{"id":"JY–1","r":0.0225,"v":4.0},{"id":"JY–1","r":0.0288,"v":2.8},{"id":"JY–1","r":0.0348,"v":3.5},{"id":"JY–1","r":0.0435,"v":2.2},{"id":"JY–1","r":0.052,"v":2.9},{"id":"JY–1","r":0.0655,"v":3.3},{"id":"JY–1","r":0.0859,"v":2.4},{"id":"JY–1","r":0.1165,"v":2.9},{"id":"JY–1","r":0.1318,"v":2.9},{"id":"JY–1","r":0.1727,"v":2.0},{"id":"JY–1","r":0.2104,"v":2.7},{"id":"JY–1","r":0.2645,"v":3.7},{"id":"JY–1","r":0.352,"v":10.1},{"id":"JY–1","r":0.523,"v":16.7},{"id":"JY–1","r":0.75,"v":6.9},{"id":"JY–1","r":1.03,"v":1.6},{"id":"JY–1","r":1.75,"v":0.5},{"id":"JY–1","r":2.53,"v":0.2},{"id":"JY–1","r":3.37,"v":0.1},{"id":"JY–1","r":5.3,"v":0.1},{"id":"JY–1","r":10.2,"v":0.1},{"id":"JY–1","r":11.6,"v":0.2},{"id":"JY–1","r":15.4,"v":0.7},{"id":"JY–1","r":21.4,"v":0.5},{"id":"JY–1","r":28,"v":0.3},{"id":"JY–1","r":36.4,"v":0.3},
{"id":"YC–6","r":0.0088,"v":1.2},{"id":"YC–6","r":0.0105,"v":1.7},{"id":"YC–6","r":0.0129,"v":1.6},{"id":"YC–6","r":0.0149,"v":2.2},{"id":"YC–6","r":0.0176,"v":3.6},{"id":"YC–6","r":0.0225,"v":4.5},{"id":"YC–6","r":0.0288,"v":3.0},{"id":"YC–6","r":0.0348,"v":4.0},{"id":"YC–6","r":0.0435,"v":2.8},{"id":"YC–6","r":0.052,"v":2.8},{"id":"YC–6","r":0.0655,"v":3.2},{"id":"YC–6","r":0.0859,"v":2.7},{"id":"YC–6","r":0.1165,"v":1.2},{"id":"YC–6","r":0.1318,"v":3.3},{"id":"YC–6","r":0.1727,"v":1.8},{"id":"YC–6","r":0.2104,"v":2.9},{"id":"YC–6","r":0.2645,"v":4.5},{"id":"YC–6","r":0.352,"v":18.9},{"id":"YC–6","r":0.523,"v":11.3},{"id":"YC–6","r":0.75,"v":3.8},{"id":"YC–6","r":1.03,"v":1.2},{"id":"YC–6","r":1.75,"v":0.4},{"id":"YC–6","r":2.53,"v":0.2},{"id":"YC–6","r":3.37,"v":0.1},{"id":"YC–6","r":5.3,"v":0.1},{"id":"YC–6","r":10.2,"v":0.1},{"id":"YC–6","r":11.6,"v":0.1},{"id":"YC–6","r":15.4,"v":0.2},{"id":"YC–6","r":21.4,"v":0.4},{"id":"YC–6","r":28,"v":0.3},{"id":"YC–6","r":36.4,"v":0.6},
{"id":"YC–8","r":0.0088,"v":1.3},{"id":"YC–8","r":0.0105,"v":1.6},{"id":"YC–8","r":0.0129,"v":1.5},{"id":"YC–8","r":0.0149,"v":1.7},{"id":"YC–8","r":0.0176,"v":3.1},{"id":"YC–8","r":0.0225,"v":3.7},{"id":"YC–8","r":0.0288,"v":3.0},{"id":"YC–8","r":0.0348,"v":3.7},{"id":"YC–8","r":0.0435,"v":2.5},{"id":"YC–8","r":0.052,"v":3.0},{"id":"YC–8","r":0.0655,"v":3.6},{"id":"YC–8","r":0.0859,"v":3.8},{"id":"YC–8","r":0.1165,"v":1.6},{"id":"YC–8","r":0.1318,"v":4.2},{"id":"YC–8","r":0.1727,"v":2.6},{"id":"YC–8","r":0.2104,"v":2.8},{"id":"YC–8","r":0.2645,"v":6.2},{"id":"YC–8","r":0.352,"v":16.8},{"id":"YC–8","r":0.523,"v":10.6},{"id":"YC–8","r":0.75,"v":3.5},{"id":"YC–8","r":1.03,"v":0.9},{"id":"YC–8","r":1.75,"v":0.3},{"id":"YC–8","r":2.53,"v":0.1},{"id":"YC–8","r":3.37,"v":0.1},{"id":"YC–8","r":5.3,"v":0.1},{"id":"YC–8","r":10.2,"v":0.05},{"id":"YC–8","r":11.6,"v":0.05},{"id":"YC–8","r":15.4,"v":0.1},{"id":"YC–8","r":21.4,"v":0.3},{"id":"YC–8","r":28,"v":0.2},{"id":"YC–8","r":36.4,"v":0.2},
{"id":"YC–10","r":0.0088,"v":1.0},{"id":"YC–10","r":0.0105,"v":2.2},{"id":"YC–10","r":0.0129,"v":1.9},{"id":"YC–10","r":0.0149,"v":4.0},{"id":"YC–10","r":0.0176,"v":8.3},{"id":"YC–10","r":0.0225,"v":4.8},{"id":"YC–10","r":0.0288,"v":2.5},{"id":"YC–10","r":0.0348,"v":2.4},{"id":"YC–10","r":0.0435,"v":1.6},{"id":"YC–10","r":0.052,"v":1.7},{"id":"YC–10","r":0.0655,"v":2.2},{"id":"YC–10","r":0.0859,"v":2.1},{"id":"YC–10","r":0.1165,"v":1.0},{"id":"YC–10","r":0.1318,"v":2.6},{"id":"YC–10","r":0.1727,"v":2.0},{"id":"YC–10","r":0.2104,"v":3.2},{"id":"YC–10","r":0.2645,"v":10.8},{"id":"YC–10","r":0.352,"v":21.2},{"id":"YC–10","r":0.523,"v":5.0},{"id":"YC–10","r":0.75,"v":0.9},{"id":"YC–10","r":1.03,"v":0.8},{"id":"YC–10","r":1.75,"v":0.6},{"id":"YC–10","r":2.53,"v":0.2},{"id":"YC–10","r":3.37,"v":0.1},{"id":"YC–10","r":5.3,"v":0.1},{"id":"YC–10","r":10.2,"v":0.05},{"id":"YC–10","r":11.6,"v":0.05},{"id":"YC–10","r":15.4,"v":0.1},{"id":"YC–10","r":21.4,"v":0.2},{"id":"YC–10","r":28,"v":0.2},{"id":"YC–10","r":36.4,"v":0.2},
{"id":"C81","r":0.0088,"v":0.8},{"id":"C81","r":0.0105,"v":1.4},{"id":"C81","r":0.0129,"v":1.5},{"id":"C81","r":0.0149,"v":2.3},{"id":"C81","r":0.0176,"v":4.0},{"id":"C81","r":0.0225,"v":4.9},{"id":"C81","r":0.0288,"v":4.0},{"id":"C81","r":0.0348,"v":5.5},{"id":"C81","r":0.0435,"v":5.9},{"id":"C81","r":0.052,"v":10.9},{"id":"C81","r":0.0655,"v":11.9},{"id":"C81","r":0.0859,"v":8.9},{"id":"C81","r":0.1165,"v":1.6},{"id":"C81","r":0.1318,"v":3.6},{"id":"C81","r":0.1727,"v":1.5},{"id":"C81","r":0.2104,"v":0.7},{"id":"C81","r":0.2645,"v":0.4},{"id":"C81","r":0.352,"v":0.2},{"id":"C81","r":0.523,"v":0.1},{"id":"C81","r":0.75,"v":0.05},{"id":"C81","r":1.03,"v":0.0},{"id":"C81","r":1.75,"v":0.0},
{"id":"147–2","r":0.0088,"v":1.2},{"id":"147–2","r":0.0105,"v":1.5},{"id":"147–2","r":0.0129,"v":1.5},{"id":"147–2","r":0.0149,"v":2.2},{"id":"147–2","r":0.0176,"v":4.6},{"id":"147–2","r":0.0225,"v":3.9},{"id":"147–2","r":0.0288,"v":2.6},{"id":"147–2","r":0.0348,"v":3.3},{"id":"147–2","r":0.0435,"v":2.9},{"id":"147–2","r":0.052,"v":3.5},{"id":"147–2","r":0.0655,"v":7.0},{"id":"147–2","r":0.0859,"v":13.0},{"id":"147–2","r":0.1165,"v":7.5},{"id":"147–2","r":0.1318,"v":18.0},{"id":"147–2","r":0.1727,"v":7.0},{"id":"147–2","r":0.2104,"v":3.8},{"id":"147–2","r":0.2645,"v":1.0},{"id":"147–2","r":0.352,"v":0.3},{"id":"147–2","r":0.523,"v":0.1},{"id":"147–2","r":0.75,"v":0.05},{"id":"147–2","r":1.03,"v":0.05},{"id":"147–2","r":1.75,"v":0.2},{"id":"147–2","r":2.53,"v":0.6},{"id":"147–2","r":3.37,"v":0.2},{"id":"147–2","r":5.3,"v":0.2},{"id":"147–2","r":10.2,"v":0.1},{"id":"147–2","r":11.6,"v":0.2},{"id":"147–2","r":15.4,"v":0.3},{"id":"147–2","r":21.4,"v":0.6},{"id":"147–2","r":28,"v":0.4},{"id":"147–2","r":36.4,"v":0.3},
{"id":"Z117–3","r":0.0088,"v":1.4},{"id":"Z117–3","r":0.0105,"v":1.8},{"id":"Z117–3","r":0.0129,"v":1.6},{"id":"Z117–3","r":0.0149,"v":2.4},{"id":"Z117–3","r":0.0176,"v":5.2},{"id":"Z117–3","r":0.0225,"v":3.5},{"id":"Z117–3","r":0.0288,"v":2.6},{"id":"Z117–3","r":0.0348,"v":3.6},{"id":"Z117–3","r":0.0435,"v":3.0},{"id":"Z117–3","r":0.052,"v":4.0},{"id":"Z117–3","r":0.0655,"v":7.6},{"id":"Z117–3","r":0.0859,"v":13.3},{"id":"Z117–3","r":0.1165,"v":8.4},{"id":"Z117–3","r":0.1318,"v":19.1},{"id":"Z117–3","r":0.1727,"v":7.2},{"id":"Z117–3","r":0.2104,"v":4.3},{"id":"Z117–3","r":0.2645,"v":0.8},{"id":"Z117–3","r":0.352,"v":0.1},{"id":"Z117–3","r":0.523,"v":0.05},{"id":"Z117–3","r":0.75,"v":0.05},{"id":"Z117–3","r":1.03,"v":0.05},{"id":"Z117–3","r":1.75,"v":0.2},{"id":"Z117–3","r":2.53,"v":0.8},{"id":"Z117–3","r":3.37,"v":0.1},{"id":"Z117–3","r":5.3,"v":0.2},{"id":"Z117–3","r":10.2,"v":0.05},{"id":"Z117–3","r":11.6,"v":0.1},{"id":"Z117–3","r":15.4,"v":0.2},{"id":"Z117–3","r":21.4,"v":0.8},{"id":"Z117–3","r":28,"v":0.3},{"id":"Z117–3","r":36.4,"v":0.2},
{"id":"N78–3","r":0.0088,"v":1.8},{"id":"N78–3","r":0.0105,"v":4.0},{"id":"N78–3","r":0.0129,"v":2.4},{"id":"N78–3","r":0.0149,"v":3.2},{"id":"N78–3","r":0.0176,"v":9.2},{"id":"N78–3","r":0.0225,"v":6.0},{"id":"N78–3","r":0.0288,"v":3.7},{"id":"N78–3","r":0.0348,"v":3.6},{"id":"N78–3","r":0.0435,"v":3.0},{"id":"N78–3","r":0.052,"v":2.8},{"id":"N78–3","r":0.0655,"v":6.0},{"id":"N78–3","r":0.0859,"v":9.7},{"id":"N78–3","r":0.1165,"v":2.5},{"id":"N78–3","r":0.1318,"v":9.1},{"id":"N78–3","r":0.1727,"v":5.4},{"id":"N78–3","r":0.2104,"v":6.2},{"id":"N78–3","r":0.2645,"v":6.6},{"id":"N78–3","r":0.352,"v":4.4},{"id":"N78–3","r":0.523,"v":1.3},{"id":"N78–3","r":0.75,"v":0.5},{"id":"N78–3","r":1.03,"v":0.4},{"id":"N78–3","r":1.75,"v":0.4},{"id":"N78–3","r":2.53,"v":0.2},{"id":"N78–3","r":3.37,"v":0.1},{"id":"N78–3","r":5.3,"v":0.1},{"id":"N78–3","r":10.2,"v":0.1},{"id":"N78–3","r":11.6,"v":0.1},{"id":"N78–3","r":15.4,"v":0.2},{"id":"N78–3","r":21.4,"v":0.3},{"id":"N78–3","r":28,"v":0.2},{"id":"N78–3","r":36.4,"v":0.2},
{"id":"Z211–1","r":0.0088,"v":0.8},{"id":"Z211–1","r":0.0105,"v":1.3},{"id":"Z211–1","r":0.0129,"v":1.0},{"id":"Z211–1","r":0.0149,"v":1.1},{"id":"Z211–1","r":0.0176,"v":2.1},{"id":"Z211–1","r":0.0225,"v":2.1},{"id":"Z211–1","r":0.0288,"v":1.8},{"id":"Z211–1","r":0.0348,"v":2.4},{"id":"Z211–1","r":0.0435,"v":2.4},{"id":"Z211–1","r":0.052,"v":3.4},{"id":"Z211–1","r":0.0655,"v":6.2},{"id":"Z211–1","r":0.0859,"v":14.7},{"id":"Z211–1","r":0.1165,"v":5.1},{"id":"Z211–1","r":0.1318,"v":11.7},{"id":"Z211–1","r":0.1727,"v":6.9},{"id":"Z211–1","r":0.2104,"v":8.3},{"id":"Z211–1","r":0.2645,"v":11.8},{"id":"Z211–1","r":0.352,"v":2.0},{"id":"Z211–1","r":0.523,"v":0.3},{"id":"Z211–1","r":0.75,"v":0.05},{"id":"Z211–1","r":1.03,"v":0.05},{"id":"Z211–1","r":1.75,"v":0.05},{"id":"Z211–1","r":2.53,"v":0.05},{"id":"Z211–1","r":3.37,"v":0.2},{"id":"Z211–1","r":5.3,"v":0.2},{"id":"Z211–1","r":10.2,"v":0.1},{"id":"Z211–1","r":11.6,"v":0.1},{"id":"Z211–1","r":15.4,"v":0.2},{"id":"Z211–1","r":21.4,"v":0.35},{"id":"Z211–1","r":28,"v":0.2},{"id":"Z211–1","r":36.4,"v":0.2}
]},
"spacing":26,
"resolve":{"scale":{"color":"independent","shape":"independent","stroke":"independent"},"legend":{"color":"independent","shape":"independent","stroke":"independent"}},
"hconcat":[
{"width":395,"height":294,
"layer":[
{"data":{"name":"cap"},"transform":[{"filter":"false"}],"mark":{"type":"point","filled":true,"size":36},
"encoding":{
"x":{"field":"S","type":"quantitative","scale":{"domain":[0,100],"reverse":true,"nice":false,"zero":false},"axis":{"values":[0,20,40,60,80,100],"title":"进汞饱和度/%","labelPadding":10,"titlePadding":7}},
"y":{"field":"P","type":"quantitative","scale":{"type":"log","domain":[0.01,100],"nice":false},"axis":{"values":[0.01,0.1,1,10,100],"labelExpr":"datum.value > 50 ? '10²' : datum.value > 5 ? '10¹' : datum.value > 0.5 ? '10⁰' : datum.value > 0.05 ? '10⁻¹' : '10⁻²'","title":"进汞压力/MPa","labelPadding":8,"titlePadding":5}},
"color":{"field":"id","type":"nominal","scale":{"domain":["YC–4","JY–1","YC–6","YC–8","YC–10","C81","147–2","Z117–3","N78–3","Z211–1"],"range":["#005a2b","#ed1c24","#2e3192","#ec008c","#00a651","#3db370","#f4a09a","#9b4f96","#f7941d","#00aeef"]},"legend":{"orient":"none","legendX":12.5,"legendY":114,"labelOffset":11.5}},
"stroke":{"field":"id","type":"nominal","scale":{"domain":["YC–4","JY–1","YC–6","YC–8","YC–10","C81","147–2","Z117–3","N78–3","Z211–1"],"range":["#005a2b","#ed1c24","#2e3192","#ec008c","#00a651","#3db370","#f4a09a","#9b4f96","#f7941d","#00aeef"]}},
"shape":{"field":"id","type":"nominal","scale":{"domain":["YC–4","JY–1","YC–6","YC–8","YC–10","C81","147–2","Z117–3","N78–3","Z211–1"],"range":["M-3.1,0H3.1M-0.9,-0.9H0.9V0.9H-0.9Z","M-3.1,0H3.1M1,0L0.866,0.5L0.5,0.866L0,1L-0.5,0.866L-0.866,0.5L-1,0L-0.866,-0.5L-0.5,-0.866L0,-1L0.5,-0.866L0.866,-0.5Z","M-3.1,0H3.1M0,-1.1L1.05,0.75L-1.05,0.75Z","M-3.1,0H3.1M0,1.1L1.05,-0.75L-1.05,-0.75Z","M-3.1,0H3.1M0,-0.85L0.7,0L0,0.85L-0.7,0Z","M-3.1,0H3.1M-1.1,0L0.75,-1.05L0.75,1.05Z","M-3.1,0H3.1M1.1,0L-0.75,-1.05L-0.75,1.05Z","M-3.1,0H3.1M1.05,0L0.909,0.525L0.525,0.909L0,1.05L-0.525,0.909L-0.909,0.525L-1.05,0L-0.909,-0.525L-0.525,-0.909L0,-1.05L0.525,-0.909L0.909,-0.525Z","M-3.1,0H3.1M0,-1.25L0.294,-0.405L1.189,-0.386L0.476,0.155L0.735,1.011L0,0.5L-0.735,1.011L-0.476,0.155L-1.189,-0.386L-0.294,-0.405Z","M-3.1,0H3.1M0,-1.05L0.999,-0.324L0.617,0.849L-0.617,0.849L-0.999,-0.324Z"]}}}},
{"data":{"name":"cap"},"mark":{"type":"line","strokeWidth":1.3,"interpolate":"linear"},
"encoding":{"x":{"field":"S","type":"quantitative"},"y":{"field":"P","type":"quantitative"},"color":{"field":"id","type":"nominal"},"detail":{"field":"c"},"order":{"field":"P","type":"quantitative"}}},
{"data":{"name":"cap"},"transform":[{"filter":"datum.id === 'YC–4'"}],"mark":{"type":"point","filled":true,"size":36,"opacity":1,"shape":"M-0.9,-0.9H0.9V0.9H-0.9Z"},"encoding":{"x":{"field":"S","type":"quantitative"},"y":{"field":"P","type":"quantitative"},"color":{"field":"id","type":"nominal"}}},
{"data":{"name":"cap"},"transform":[{"filter":"datum.id === 'JY–1'"}],"mark":{"type":"point","filled":true,"size":36,"opacity":1,"shape":"M1,0L0.866,0.5L0.5,0.866L0,1L-0.5,0.866L-0.866,0.5L-1,0L-0.866,-0.5L-0.5,-0.866L0,-1L0.5,-0.866L0.866,-0.5Z"},"encoding":{"x":{"field":"S","type":"quantitative"},"y":{"field":"P","type":"quantitative"},"color":{"field":"id","type":"nominal"}}},
{"data":{"name":"cap"},"transform":[{"filter":"datum.id === 'YC–6'"}],"mark":{"type":"point","filled":true,"size":36,"opacity":1,"shape":"M0,-1.1L1.05,0.75L-1.05,0.75Z"},"encoding":{"x":{"field":"S","type":"quantitative"},"y":{"field":"P","type":"quantitative"},"color":{"field":"id","type":"nominal"}}},
{"data":{"name":"cap"},"transform":[{"filter":"datum.id === 'YC–8'"}],"mark":{"type":"point","filled":true,"size":36,"opacity":1,"shape":"M0,1.1L1.05,-0.75L-1.05,-0.75Z"},"encoding":{"x":{"field":"S","type":"quantitative"},"y":{"field":"P","type":"quantitative"},"color":{"field":"id","type":"nominal"}}},
{"data":{"name":"cap"},"transform":[{"filter":"datum.id === 'YC–10'"}],"mark":{"type":"point","filled":true,"size":36,"opacity":1,"shape":"M0,-0.85L0.7,0L0,0.85L-0.7,0Z"},"encoding":{"x":{"field":"S","type":"quantitative"},"y":{"field":"P","type":"quantitative"},"color":{"field":"id","type":"nominal"}}},
{"data":{"name":"cap"},"transform":[{"filter":"datum.id === 'C81'"}],"mark":{"type":"point","filled":true,"size":36,"opacity":1,"shape":"M-1.1,0L0.75,-1.05L0.75,1.05Z"},"encoding":{"x":{"field":"S","type":"quantitative"},"y":{"field":"P","type":"quantitative"},"color":{"field":"id","type":"nominal"}}},
{"data":{"name":"cap"},"transform":[{"filter":"datum.id === '147–2'"}],"mark":{"type":"point","filled":true,"size":36,"opacity":1,"shape":"M1.1,0L-0.75,-1.05L-0.75,1.05Z"},"encoding":{"x":{"field":"S","type":"quantitative"},"y":{"field":"P","type":"quantitative"},"color":{"field":"id","type":"nominal"}}},
{"data":{"name":"cap"},"transform":[{"filter":"datum.id === 'Z117–3'"}],"mark":{"type":"point","filled":true,"size":36,"opacity":1,"shape":"M1.05,0L0.909,0.525L0.525,0.909L0,1.05L-0.525,0.909L-0.909,0.525L-1.05,0L-0.909,-0.525L-0.525,-0.909L0,-1.05L0.525,-0.909L0.909,-0.525Z"},"encoding":{"x":{"field":"S","type":"quantitative"},"y":{"field":"P","type":"quantitative"},"color":{"field":"id","type":"nominal"}}},
{"data":{"name":"cap"},"transform":[{"filter":"datum.id === 'N78–3'"}],"mark":{"type":"point","filled":true,"size":36,"opacity":1,"shape":"M0,-1.25L0.294,-0.405L1.189,-0.386L0.476,0.155L0.735,1.011L0,0.5L-0.735,1.011L-0.476,0.155L-1.189,-0.386L-0.294,-0.405Z"},"encoding":{"x":{"field":"S","type":"quantitative"},"y":{"field":"P","type":"quantitative"},"color":{"field":"id","type":"nominal"}}},
{"data":{"name":"cap"},"transform":[{"filter":"datum.id === 'Z211–1'"}],"mark":{"type":"point","filled":true,"size":36,"opacity":1,"shape":"M0,-1.05L0.999,-0.324L0.617,0.849L-0.617,0.849L-0.999,-0.324Z"},"encoding":{"x":{"field":"S","type":"quantitative"},"y":{"field":"P","type":"quantitative"},"color":{"field":"id","type":"nominal"}}},
{"data":{"values":[{}]},"mark":{"type":"text","align":"right","baseline":"middle","fontSize":14,"font":"Liberation Serif, Noto Sans CJK SC","color":"#222"},
"encoding":{"x":{"datum":3.8,"type":"quantitative"},"y":{"datum":0.0193,"type":"quantitative"},"text":{"value":"a 毛细管压力曲线"}}}
]},
{"width":397,"height":294,
"layer":[
{"data":{"name":"pore"},"transform":[{"filter":"false"}],"mark":{"type":"point","filled":true,"size":36},
"encoding":{
"x":{"field":"r","type":"quantitative","scale":{"type":"log","domain":[0.00582,100],"nice":false},"axis":{"values":[0.01,0.1,1,10,100],"labelExpr":"datum.value > 50 ? '10²' : datum.value > 5 ? '10¹' : datum.value > 0.5 ? '10⁰' : datum.value > 0.05 ? '10⁻¹' : '10⁻²'","title":"孔喉半径/μm","labelPadding":10,"titlePadding":7}},
"y":{"field":"v","type":"quantitative","scale":{"domain":[0,25],"nice":false},"axis":{"values":[0,5,10,15,20,25],"title":"进汞饱和度/%","labelPadding":8,"titlePadding":8}},
"color":{"field":"id","type":"nominal","scale":{"domain":["YC–4","JY–1","YC–6","YC–8","YC–10","C81","147–2","Z117–3","N78–3","Z211–1"],"range":["#005a2b","#ed1c24","#2e3192","#ec008c","#00a651","#3db370","#f4a09a","#9b4f96","#f7941d","#00aeef"]},"legend":{"orient":"none","legendX":316,"legendY":-2,"labelOffset":8.5}},
"stroke":{"field":"id","type":"nominal","scale":{"domain":["YC–4","JY–1","YC–6","YC–8","YC–10","C81","147–2","Z117–3","N78–3","Z211–1"],"range":["#005a2b","#ed1c24","#2e3192","#ec008c","#00a651","#3db370","#f4a09a","#9b4f96","#f7941d","#00aeef"]}},
"shape":{"field":"id","type":"nominal","scale":{"domain":["YC–4","JY–1","YC–6","YC–8","YC–10","C81","147–2","Z117–3","N78–3","Z211–1"],"range":["M-3.1,0H3.1M-0.9,-0.9H0.9V0.9H-0.9Z","M-3.1,0H3.1M1,0L0.866,0.5L0.5,0.866L0,1L-0.5,0.866L-0.866,0.5L-1,0L-0.866,-0.5L-0.5,-0.866L0,-1L0.5,-0.866L0.866,-0.5Z","M-3.1,0H3.1M0,-1.1L1.05,0.75L-1.05,0.75Z","M-3.1,0H3.1M0,1.1L1.05,-0.75L-1.05,-0.75Z","M-3.1,0H3.1M0,-0.85L0.7,0L0,0.85L-0.7,0Z","M-3.1,0H3.1M-1.1,0L0.75,-1.05L0.75,1.05Z","M-3.1,0H3.1M1.1,0L-0.75,-1.05L-0.75,1.05Z","M-3.1,0H3.1M1.05,0L0.909,0.525L0.525,0.909L0,1.05L-0.525,0.909L-0.909,0.525L-1.05,0L-0.909,-0.525L-0.525,-0.909L0,-1.05L0.525,-0.909L0.909,-0.525Z","M-3.1,0H3.1M0,-1.25L0.294,-0.405L1.189,-0.386L0.476,0.155L0.735,1.011L0,0.5L-0.735,1.011L-0.476,0.155L-1.189,-0.386L-0.294,-0.405Z","M-3.1,0H3.1M0,-1.05L0.999,-0.324L0.617,0.849L-0.617,0.849L-0.999,-0.324Z"]}}}},
{"data":{"name":"pore"},"mark":{"type":"line","strokeWidth":1.3},"encoding":{"x":{"field":"r","type":"quantitative"},"y":{"field":"v","type":"quantitative"},"color":{"field":"id","type":"nominal"}}},
{"data":{"name":"pore"},"transform":[{"filter":"datum.id === 'YC–4'"}],"mark":{"type":"point","filled":true,"size":36,"opacity":1,"shape":"M-0.9,-0.9H0.9V0.9H-0.9Z"},"encoding":{"x":{"field":"r","type":"quantitative"},"y":{"field":"v","type":"quantitative"},"color":{"field":"id","type":"nominal"}}},
{"data":{"name":"pore"},"transform":[{"filter":"datum.id === 'JY–1'"}],"mark":{"type":"point","filled":true,"size":36,"opacity":1,"shape":"M1,0L0.866,0.5L0.5,0.866L0,1L-0.5,0.866L-0.866,0.5L-1,0L-0.866,-0.5L-0.5,-0.866L0,-1L0.5,-0.866L0.866,-0.5Z"},"encoding":{"x":{"field":"r","type":"quantitative"},"y":{"field":"v","type":"quantitative"},"color":{"field":"id","type":"nominal"}}},
{"data":{"name":"pore"},"transform":[{"filter":"datum.id === 'YC–6'"}],"mark":{"type":"point","filled":true,"size":36,"opacity":1,"shape":"M0,-1.1L1.05,0.75L-1.05,0.75Z"},"encoding":{"x":{"field":"r","type":"quantitative"},"y":{"field":"v","type":"quantitative"},"color":{"field":"id","type":"nominal"}}},
{"data":{"name":"pore"},"transform":[{"filter":"datum.id === 'YC–8'"}],"mark":{"type":"point","filled":true,"size":36,"opacity":1,"shape":"M0,1.1L1.05,-0.75L-1.05,-0.75Z"},"encoding":{"x":{"field":"r","type":"quantitative"},"y":{"field":"v","type":"quantitative"},"color":{"field":"id","type":"nominal"}}},
{"data":{"name":"pore"},"transform":[{"filter":"datum.id === 'YC–10'"}],"mark":{"type":"point","filled":true,"size":36,"opacity":1,"shape":"M0,-0.85L0.7,0L0,0.85L-0.7,0Z"},"encoding":{"x":{"field":"r","type":"quantitative"},"y":{"field":"v","type":"quantitative"},"color":{"field":"id","type":"nominal"}}},
{"data":{"name":"pore"},"transform":[{"filter":"datum.id === 'C81'"}],"mark":{"type":"point","filled":true,"size":36,"opacity":1,"shape":"M-1.1,0L0.75,-1.05L0.75,1.05Z"},"encoding":{"x":{"field":"r","type":"quantitative"},"y":{"field":"v","type":"quantitative"},"color":{"field":"id","type":"nominal"}}},
{"data":{"name":"pore"},"transform":[{"filter":"datum.id === '147–2'"}],"mark":{"type":"point","filled":true,"size":36,"opacity":1,"shape":"M1.1,0L-0.75,-1.05L-0.75,1.05Z"},"encoding":{"x":{"field":"r","type":"quantitative"},"y":{"field":"v","type":"quantitative"},"color":{"field":"id","type":"nominal"}}},
{"data":{"name":"pore"},"transform":[{"filter":"datum.id === 'Z117–3'"}],"mark":{"type":"point","filled":true,"size":36,"opacity":1,"shape":"M1.05,0L0.909,0.525L0.525,0.909L0,1.05L-0.525,0.909L-0.909,0.525L-1.05,0L-0.909,-0.525L-0.525,-0.909L0,-1.05L0.525,-0.909L0.909,-0.525Z"},"encoding":{"x":{"field":"r","type":"quantitative"},"y":{"field":"v","type":"quantitative"},"color":{"field":"id","type":"nominal"}}},
{"data":{"name":"pore"},"transform":[{"filter":"datum.id === 'N78–3'"}],"mark":{"type":"point","filled":true,"size":36,"opacity":1,"shape":"M0,-1.25L0.294,-0.405L1.189,-0.386L0.476,0.155L0.735,1.011L0,0.5L-0.735,1.011L-0.476,0.155L-1.189,-0.386L-0.294,-0.405Z"},"encoding":{"x":{"field":"r","type":"quantitative"},"y":{"field":"v","type":"quantitative"},"color":{"field":"id","type":"nominal"}}},
{"data":{"name":"pore"},"transform":[{"filter":"datum.id === 'Z211–1'"}],"mark":{"type":"point","filled":true,"size":36,"opacity":1,"shape":"M0,-1.05L0.999,-0.324L0.617,0.849L-0.617,0.849L-0.999,-0.324Z"},"encoding":{"x":{"field":"r","type":"quantitative"},"y":{"field":"v","type":"quantitative"},"color":{"field":"id","type":"nominal"}}},
{"data":{"values":[{}]},"mark":{"type":"text","align":"right","baseline":"middle","fontSize":14,"font":"Liberation Serif, Noto Sans CJK SC","color":"#222"},
"encoding":{"x":{"datum":90,"type":"quantitative"},"y":{"datum":1.8,"type":"quantitative"},"text":{"value":"b 孔喉半径分布曲线"}}}
]}
]
}
